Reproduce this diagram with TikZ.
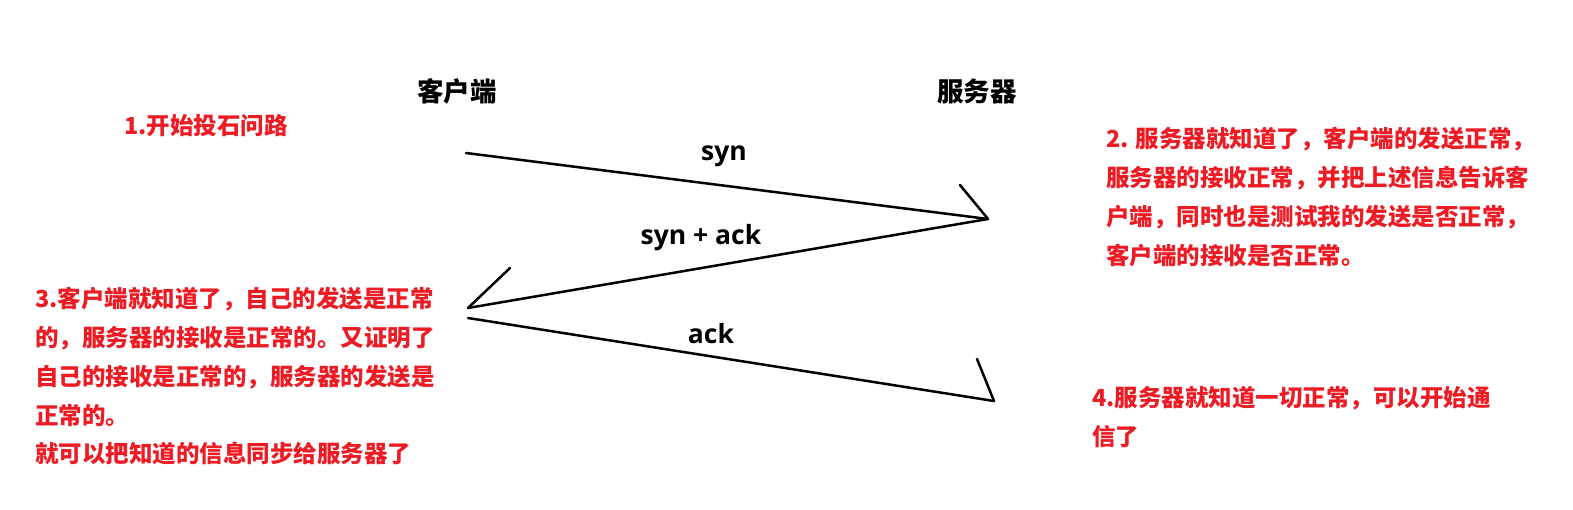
\documentclass[tikz,border=0pt]{standalone}
\usepackage{fontspec}
\setmainfont{Noto Sans CJK SC}
\newfontfamily\labelfont{Open Sans}
\definecolor{notered}{RGB}{237,28,36}
\tikzset{
  note/.style={inner sep=0pt, text=notered, font=\bfseries\fontsize{23.5}{38.8}\selectfont, align=left},
  title/.style={inner sep=0pt, text=black, font=\bfseries\fontsize{26.5}{30}\selectfont},
  msglabel/.style={inner sep=0pt, text=black, font=\labelfont\bfseries\fontsize{26.5}{30}\selectfont},
  msg/.style={draw=black, line width=2.5pt, line cap=round, line join=round}
}
\begin{document}
\begin{tikzpicture}[x=1pt,y=-1pt]
\useasboundingbox[fill=white] (0,0) rectangle (1573,510);
% titles
\node[title] (client) at (457,91) {客户端};
\node[title] (server) at (977,91) {服务器};
% notes
\node[note, anchor=west] (n1) at (124,126) {1.开始投石问路};
\node[note, anchor=north west] (n2) at (1106,127) {2. 服务器就知道了，客户端的发送正常，\\服务器的接收正常，并把上述信息告诉客\\户端，同时也是测试我的发送是否正常，\\客户端的接收是否正常。};
\node[note, anchor=north west] (n3) at (35,287) {3.客户端就知道了，自己的发送是正常\\的，服务器的接收是正常的。又证明了\\自己的接收是正常的，服务器的发送是\\正常的。\\就可以把知道的信息同步给服务器了};
\node[note, anchor=north west] (n4) at (1092,386) {4.服务器就知道一切正常，可以开始通\\信了};
% message endpoints
\coordinate (c1) at (466,153);
\coordinate (s1) at (988,219);
\coordinate (b1) at (960,185);
\coordinate (c2) at (468,308);
\coordinate (b2) at (510,268);
\coordinate (c3) at (468,318);
\coordinate (s2) at (994,401);
\coordinate (b3) at (977,359);
% messages
\draw[msg] (c1) -- (s1);
\draw[msg] (b1) -- (s1);
\draw[msg] (s1) -- (c2);
\draw[msg] (b2) -- (c2);
\draw[msg] (c3) -- (s2);
\draw[msg] (b3) -- (s2);
% labels
\node[msglabel] (lsyn) at (724,156) {syn};
\node[msglabel] (lsynack) at (701,238) {syn + ack};
\node[msglabel] (lack) at (711,334) {ack};
\end{tikzpicture}
\end{document}
